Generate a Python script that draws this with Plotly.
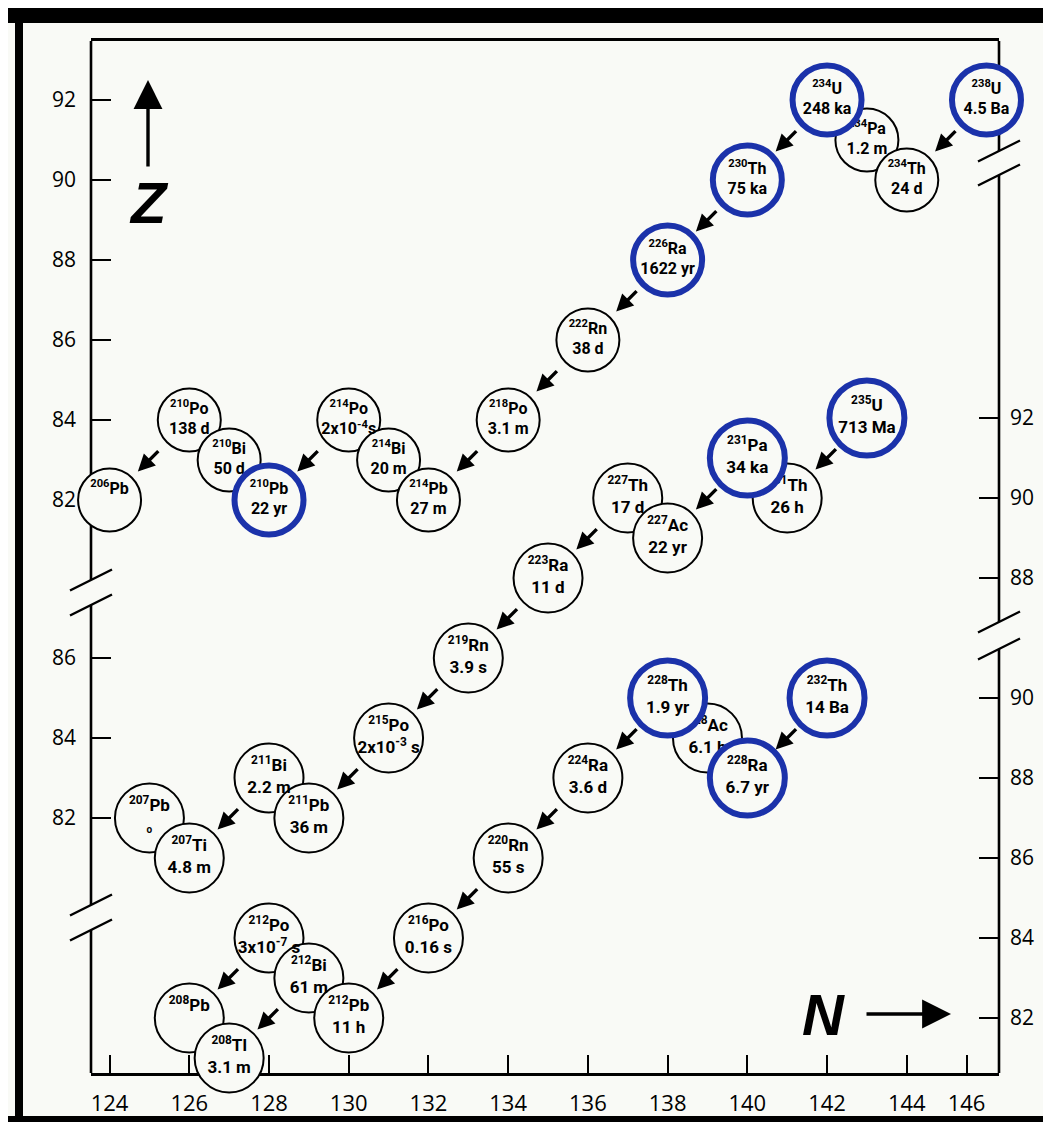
import plotly.graph_objects as go

# ---------------- data ----------------
# x ticks: the printed "146" tick sits slightly left of its nominal place in the reference
x_tick_pos = [124, 126, 128, 130, 132, 134, 136, 138, 140, 142, 144, 145.5]
x_tick_text = ["124", "126", "128", "130", "132", "134", "136", "138", "140", "142", "144", "146"]
y_left_upper_ticks = [82, 84, 86, 88, 90, 92]
y_left_lower_ticks = [82, 84, 86]
y_right_middle_ticks = [88, 90, 92]
y_right_lower_ticks = [82, 84, 86, 88, 90]

# 238U series (upper panel)
u8_A = [238, 234, 234, 234, 230, 226, 222, 218, 214, 214, 214, 210, 210, 210, 206]
u8_el = ["U", "Th", "Pa", "U", "Th", "Ra", "Rn", "Po", "Pb", "Bi", "Po", "Pb", "Bi", "Po", "Pb"]
u8_Z = [92, 90, 91, 92, 90, 88, 86, 84, 82, 83, 84, 82, 83, 84, 82]
u8_t = ["4.5 Ba", "24 d", "1.2 m", "248 ka", "75 ka", "1622 yr", "38 d", "3.1 m", "27 m",
        "20 m", "2x10<sup>-4</sup>s", "22 yr", "50 d", "138 d", ""]
u8_blue = [1, 0, 0, 1, 1, 1, 0, 0, 0, 0, 0, 1, 0, 0, 0]

# 235U series (middle panel)
u5_A = [235, 231, 231, 227, 227, 223, 219, 215, 211, 211, 207, 207]
u5_el = ["U", "Th", "Pa", "Ac", "Th", "Ra", "Rn", "Po", "Pb", "Bi", "Ti", "Pb"]
u5_Z = [92, 90, 91, 89, 90, 88, 86, 84, 82, 83, 81, 82]
u5_t = ["713 Ma", "26 h", "34 ka", "22 yr", "17 d", "11 d", "3.9 s", "2x10<sup>-3</sup> s",
        "36 m", "2.2 m", "4.8 m", "o"]
u5_blue = [1, 0, 1, 0, 0, 0, 0, 0, 0, 0, 0, 0]

# 232Th series (lower panel)
t2_A = [232, 228, 228, 228, 224, 220, 216, 212, 212, 212, 208, 208]
t2_el = ["Th", "Ra", "Ac", "Th", "Ra", "Rn", "Po", "Pb", "Bi", "Po", "Tl", "Pb"]
t2_Z = [90, 88, 89, 90, 88, 86, 84, 82, 83, 84, 81, 82]
t2_t = ["14 Ba", "6.7 yr", "6.1 h", "1.9 yr", "3.6 d", "55 s", "0.16 s", "11 h", "61 m",
        "3x10<sup>-7</sup> s", "3.1 m", ""]
t2_blue = [1, 1, 0, 1, 0, 0, 0, 0, 0, 0, 0, 0]

# ---------------- style ----------------
BG = "#f9faf6"
BLUE = "#1b32aa"
W, H = 1051, 1122
L, R, T, B = 83, 991, 33, 1065          # plot box in pixels
CFONT = "Liberation Sans Narrow, Roboto, sans-serif"
TFONT = "Open Sans, Liberation Sans, sans-serif"


def px(x):
    return (x - L) / (R - L)


def py(y):
    return (B - y) / (B - T)


chains = [
    dict(A=u8_A, el=u8_el, Z=u8_Z, t=u8_t, blue=u8_blue, yb="y", yl="y",
         dblack=63, dblue=69, fs=16),
    dict(A=u5_A, el=u5_el, Z=u5_Z, t=u5_t, blue=u5_blue, yb="y2", yl="y3",
         dblack=69, dblue=75, fs=17),
    dict(A=t2_A, el=t2_el, Z=t2_Z, t=t2_t, blue=t2_blue, yb="y4", yl="y4",
         dblack=69, dblue=75, fs=17),
]


def label(a, el, t):
    top = f"<sup>{a}</sup>{el}"
    if t == "o":
        return top + "<br><span style='font-size:10px'>o</span>"
    if t == "":
        return top + "<br>\u00a0"
    return top + "<br>" + t


fig = go.Figure()
annotations = []

for ch in chains:
    N = [a - z for a, z in zip(ch["A"], ch["Z"])]
    idx = list(range(len(N)))
    black = sorted([i for i in idx if not ch["blue"][i]], key=lambda i: -ch["Z"][i])
    blue = [i for i in idx if ch["blue"][i]]
    for group, col, lw, size, yax in [(black, "black", 2, ch["dblack"], ch["yb"]),
                                       (blue, BLUE, 6, ch["dblue"], ch["yl"])]:
        fig.add_trace(go.Scatter(
            x=[N[i] for i in group], y=[ch["Z"][i] for i in group],
            yaxis=yax, mode="markers+text",
            marker=dict(size=size, color=BG, line=dict(color=col, width=lw)),
            text=[label(ch["A"][i], ch["el"][i], ch["t"][i]) for i in group],
            textposition="middle center",
            textfont=dict(family=CFONT, size=ch["fs"], color="black", weight=700),
            cliponaxis=False, hoverinfo="skip", showlegend=False))
    # alpha-decay arrows (A-4, Z-2)
    yref = ch["yb"]
    for i in idx:
        for j in idx:
            if ch["A"][j] == ch["A"][i] - 4 and ch["Z"][j] == ch["Z"][i] - 2:
                n0, z0, n1, z1 = N[i], ch["Z"][i], N[j], ch["Z"][j]
                annotations.append(dict(
                    x=n0 + 0.645 * (n1 - n0), y=z0 + 0.645 * (z1 - z0),
                    ax=n0 + 0.37 * (n1 - n0), ay=z0 + 0.37 * (z1 - z0),
                    xref="x", yref=yref, axref="x", ayref=yref,
                    showarrow=True, arrowhead=2, arrowsize=1.0, arrowwidth=3.4,
                    arrowcolor="black", text="", standoff=0))

# axis labels with arrows
AXFONT = dict(family="Liberation Sans, Arial, sans-serif", size=58, color="black")
annotations += [
    dict(x=px(140), y=py(72), xref="paper", yref="paper", ax=0, ay=88,
         showarrow=True, arrowhead=2, arrowsize=1.7, arrowwidth=3.4, arrowcolor="black", text=""),
    dict(x=px(141), y=py(194), xref="paper", yref="paper", showarrow=False,
         xanchor="center", yanchor="middle", text="<b><i>Z</i></b>", font=AXFONT),
    dict(x=px(943), y=py(1006), xref="paper", yref="paper", ax=-86, ay=0,
         showarrow=True, arrowhead=2, arrowsize=1.7, arrowwidth=3.4, arrowcolor="black", text=""),
    dict(x=px(815), y=py(1006), xref="paper", yref="paper", showarrow=False,
         xanchor="center", yanchor="middle", text="<b><i>N</i></b>", font=AXFONT),
]

# axis lines with breaks, and the black frame
shapes = []
lw_axis = 2.6


def seg(x0, y0, x1, y1, w=lw_axis):
    shapes.append(dict(type="line", xref="paper", yref="paper", x0=px(x0), y0=py(y0),
                       x1=px(x1), y1=py(y1), line=dict(color="black", width=w), layer="below"))


left_breaks = [572, 597, 897, 922]
right_breaks = [143, 167, 614, 641]
for xa, br in [(L, left_breaks), (R, right_breaks)]:
    pts = [T] + br + [B]
    for k in range(0, len(pts), 2):
        seg(xa, pts[k], xa, pts[k + 1])
    for yb in br:
        seg(xa - 21, yb + 10.5, xa + 21, yb - 10.5, 2.4)

for (x0, y0, x1, y1) in [(0, 0, W, 15), (7, 0, 15, H), (0, 1108, W, H)]:
    shapes.append(dict(type="rect", xref="paper", yref="paper", x0=px(x0), x1=px(x1),
                       y0=py(y1), y1=py(y0), fillcolor="black", line=dict(width=0), layer="above"))

tick_common = dict(ticks="inside", tickcolor="black", tickwidth=2.2, showgrid=False,
                   zeroline=False, showline=False, layer="below traces",
                   tickfont=dict(family=TFONT, size=21, color="black"))

fig.update_layout(
    width=W, height=H, margin=dict(l=L, r=W - R, t=T, b=H - B),
    paper_bgcolor=BG, plot_bgcolor="rgba(0,0,0,0)", showlegend=False,
    xaxis=dict(range=[123.534, 146.314], tickvals=x_tick_pos, ticktext=x_tick_text,
               ticklen=18, ticks="inside",
               tickcolor="black", tickwidth=2.2, showgrid=False, zeroline=False,
               showline=True, linecolor="black", linewidth=lw_axis, mirror=True,
               layer="below traces", ticklabelstandoff=9,
               tickfont=dict(family=TFONT, size=22, color="black")),
    yaxis=dict(range=[67.675, 93.475], tickvals=y_left_upper_ticks, side="left", ticklen=20,
               ticklabelstandoff=14, anchor="x", **tick_common),
    yaxis2=dict(range=[75.625, 101.425], tickvals=y_left_lower_ticks, side="left", ticklen=20,
                ticklabelstandoff=14, overlaying="y", anchor="x", **tick_common),
    yaxis3=dict(range=[75.625, 101.425], tickvals=y_right_middle_ticks, side="right", ticklen=20,
                ticklabelstandoff=10, overlaying="y", anchor="x", **tick_common),
    yaxis4=dict(range=[80.625, 106.425], tickvals=y_right_lower_ticks, side="right", ticklen=20,
                ticklabelstandoff=10, overlaying="y", anchor="x", **tick_common),
    annotations=annotations, shapes=shapes,
)

fig.write_html("out.html")
